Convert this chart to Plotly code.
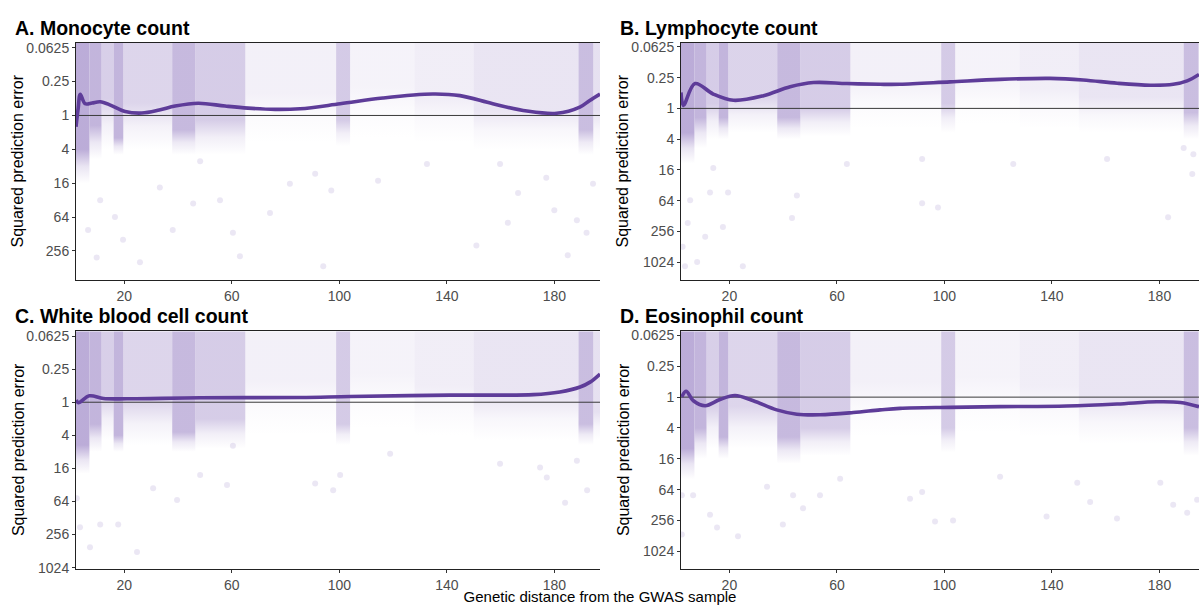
import numpy as np
import plotly.graph_objects as go

# ---------------- data ----------------
# x-bands of the point cloud (genetic distance) shared by all panels
col_x0 = [2, 7, 11.5, 16, 19.6, 37.8, 46.4, 65, 98.8, 104, 128, 150, 189, 194.5]
col_x1 = [7, 11.5, 16, 19.6, 37.8, 46.4, 65, 98.8, 104, 128, 150, 189, 194.5, 197]

# density per band (0-1) and where the cloud stays dense / fades out (squared error)
A_density = [0.95, 0.85, 0.55, 0.85, 0.48, 0.8, 0.58, 0.17, 0.6, 0.14, 0.2, 0.3, 0.75, 0.35]
A_dense_to = [4, 1.5, 0.5, 2.5, 0.6, 1.8, 1.2, 0.4, 1.2, 0.3, 0.5, 0.8, 1.8, 0.8]
A_fade_to = [16, 6, 4, 5, 4, 5, 5, 3, 3.5, 2.5, 3, 4, 5, 4]

B_density = [0.95, 0.85, 0.58, 0.85, 0.5, 0.8, 0.58, 0.17, 0.6, 0.14, 0.2, 0.3, 0.75, 0.35]
B_dense_to = [3, 1.5, 0.8, 1.5, 0.6, 1.5, 1.0, 0.3, 0.8, 0.3, 0.4, 0.6, 1.2, 0.8]
B_fade_to = [12, 6, 4, 4, 3, 4, 3.5, 2.5, 3, 2, 2.5, 3, 4, 3]

C_density = [0.95, 0.85, 0.55, 0.85, 0.48, 0.8, 0.58, 0.17, 0.6, 0.14, 0.2, 0.3, 0.75, 0.35]
C_dense_to = [6, 2.5, 0.8, 4, 1.0, 3.5, 2, 0.4, 2.5, 0.3, 0.5, 0.8, 2.5, 1.5]
C_fade_to = [20, 8, 5, 8, 6, 8, 7, 4, 6, 3, 4, 5, 6, 5]

D_density = [0.95, 0.85, 0.55, 0.85, 0.48, 0.8, 0.58, 0.17, 0.6, 0.14, 0.2, 0.3, 0.75, 0.35]
D_dense_to = [10, 4, 1.5, 6, 1.5, 6, 4, 0.5, 4, 0.4, 0.6, 1.2, 4, 2]
D_fade_to = [40, 16, 10, 16, 10, 20, 14, 6, 12, 5, 6, 8, 14, 8]

# isolated points in the sparse part of each cloud
A_pts_x = [6.5, 9.7, 19.5, 25.8, 11, 16.5, 33.2, 45.6, 38, 60.4, 55.6, 63, 74.2, 81.6, 48.2,
           94, 97, 91, 114.4, 132.6, 151, 162.7, 166.5, 177, 180, 185, 188.4, 192, 194.4, 159.8]
A_pts_y = [108, 333, 162, 405, 32, 64, 19, 36.6, 108, 121, 32, 318, 54, 16.3, 6.5,
           477, 21.6, 10.9, 14.5, 7.3, 204, 81, 24, 12.8, 48.5, 305, 72.5, 121, 16.3, 7.3]
B_pts_x = [2.6, 3.5, 4.5, 8, 5.4, 12.8, 19.5, 17.6, 25, 43.3, 45.1, 11, 14, 63.7,
           91.7, 91.7, 97.6, 125.6, 160.5, 183.2, 192.2, 192.6, 189]
B_pts_y = [512, 1230, 176, 1024, 63, 44.6, 44.6, 211, 1230, 141, 50.6, 326, 14.7, 12.3,
           9.8, 72, 87, 12.3, 9.8, 135, 19.2, 7.9, 6]
C_pts_x = [2.3, 3.5, 7.2, 11, 17.7, 24.7, 30.7, 39.6, 58.2, 48.2, 60.4,
           91, 97.7, 100.3, 118.9, 159.8, 177.2, 184, 192.2, 188.4, 174.7]
C_pts_y = [56, 188, 433, 167, 167, 533, 36.7, 60, 32, 21, 6.2,
           30, 40, 21, 8.7, 13.2, 23.3, 67.6, 40, 11.6, 15.4]
D_pts_x = [2.3, 2.3, 6.5, 12.8, 15.4, 23.2, 39.9, 43.7, 53.7, 61.2, 34, 47.4,
           96.5, 103.2, 87.2, 91.7, 138, 164.2, 185.1, 190.3, 194, 180.3, 149.4, 120.7, 154.2]
D_pts_y = [82, 478, 82, 197, 350, 520, 305, 82, 82, 39, 56, 148,
           269, 256, 96, 71, 215, 235, 126, 181, 101, 47, 47, 36, 111]

# smoothed trend (squared prediction error vs distance)
A_fit_x = [2.0, 2.8, 3.6, 5.4, 8.0, 11.0, 15, 20.3, 26.5, 33, 38.9, 47.5, 57.5, 66, 76.1, 85.4,
           100.3, 116.2, 134.8, 144.9, 157.1, 169.8, 180.9, 189.5, 193.2, 197]
A_fit_y = [1.59, 0.75, 0.42, 0.62, 0.6, 0.57, 0.66, 0.85, 0.905, 0.8, 0.68, 0.605, 0.68, 0.74, 0.78, 0.76,
           0.62, 0.49, 0.416, 0.444, 0.62, 0.835, 0.915, 0.71, 0.54, 0.416]
B_fit_x = [2.0, 2.9, 7.2, 14.0, 21.5, 32.7, 42.6, 51.3, 63.7, 76.1, 83.5, 102.1, 120.7, 139.3,
           151.6, 164.3, 176.6, 185.1, 190.3, 194.7]
B_fit_y = [0.486, 0.875, 0.326, 0.524, 0.693, 0.563, 0.377, 0.312, 0.326, 0.337, 0.337, 0.302, 0.27, 0.258,
           0.277, 0.322, 0.351, 0.337, 0.289, 0.216]
C_fit_x = [2.1, 2.9, 7.0, 12.2, 20.9, 48.2, 85.4, 104.0, 141.2, 172.2, 182.1, 189.6, 193.3, 197]
C_fit_y = [0.91, 1.02, 0.765, 0.855, 0.866, 0.83, 0.821, 0.788, 0.744, 0.726, 0.649, 0.528, 0.431, 0.306]
D_fit_x = [2.3, 3.9, 6.6, 11.0, 16.5, 22.1, 28.9, 37.6, 45.1, 53.7, 66.1, 76.1, 83.5, 102.1, 120.7,
           145.5, 164.2, 179.0, 187.8, 194.7]
D_fit_y = [0.987, 0.767, 1.178, 1.468, 1.11, 0.932, 1.178, 1.775, 2.155, 2.214, 2.0, 1.775, 1.654, 1.582, 1.535,
           1.488, 1.362, 1.231, 1.269, 1.535]

titles = ["A. Monocyte count", "B. Lymphocyte count", "C. White blood cell count", "D. Eosinophil count"]
x_tick_vals = [20, 60, 100, 140, 180]
y_tick_vals = [0.0625, 0.25, 1, 4, 16, 64, 256, 1024]
y_tick_text = ["0.0625", "0.25", "1", "4", "16", "64", "256", "1024"]
x_title = "Genetic distance from the GWAS sample"
y_title = "Squared prediction error"

# ---------------- layout geometry ----------------
W, H = 1199, 613
panels = [
    dict(key="A", px=(76, 600), py=(39.3, 281.5), xr=(2.0, 197.0), yr=(2.932, -1.295),
         yt=7, dens=A_density, d_to=A_dense_to, f_to=A_fade_to, ptx=A_pts_x, pty=A_pts_y,
         fx=A_fit_x, fy=A_fit_y),
    dict(key="B", px=(681, 1199), py=(39.3, 281.5), xr=(2.0, 194.7), yr=(3.370, -1.289),
         yt=8, dens=B_density, d_to=B_dense_to, f_to=B_fade_to, ptx=B_pts_x, pty=B_pts_y,
         fx=B_fit_x, fy=B_fit_y),
    dict(key="C", px=(76, 600), py=(333.3, 575.2), xr=(2.0, 197.0), yr=(3.032, -1.290),
         yt=8, dens=C_density, d_to=C_dense_to, f_to=C_fade_to, ptx=C_pts_x, pty=C_pts_y,
         fx=C_fit_x, fy=C_fit_y),
    dict(key="D", px=(681, 1199), py=(333.3, 575.2), xr=(2.0, 194.7), yr=(3.353, -1.285),
         yt=8, dens=D_density, d_to=D_dense_to, f_to=D_fade_to, ptx=D_pts_x, pty=D_pts_y,
         fx=D_fit_x, fy=D_fit_y),
]

CLOUD = (184, 168, 214)
LINE = "#5E3C99"
FONT = "Liberation Sans, Arial, Helvetica, sans-serif"


def rgba(a):
    return "rgba(%d,%d,%d,%.3f)" % (CLOUD[0], CLOUD[1], CLOUD[2], max(0.0, min(1.0, a)))


fig = go.Figure()
layout = dict(width=W, height=H, margin=dict(l=0, r=0, t=0, b=0),
              paper_bgcolor="white", plot_bgcolor="rgba(0,0,0,0)", showlegend=False,
              font=dict(family=FONT), annotations=[])

for i, p in enumerate(panels):
    n = "" if i == 0 else str(i + 1)
    xa, ya = "x" + n, "y" + n
    top_val = 10 ** p["yr"][1]
    # cloud bands
    for x0, x1, a, dto, fto in zip(col_x0, col_x1, p["dens"], p["d_to"], p["f_to"]):
        x1c = min(x1, p["xr"][1])
        if x0 >= x1c:
            continue
        lt = np.log10(top_val)
        f = (np.log10(dto) - lt) / (np.log10(fto) - lt)  # fraction from top
        f = min(max(f, 0.02), 0.95)
        pos_solid = 1 - f
        pos_mid = pos_solid * 0.5
        cs = [[0, rgba(0)], [pos_mid, rgba(a * 0.32)], [pos_solid, rgba(a)], [1, rgba(a)]]
        fig.add_trace(go.Scatter(
            x=[x0, x1c, x1c, x0, x0], y=[top_val, top_val, fto, fto, top_val],
            mode="none", fill="toself", fillgradient=dict(type="vertical", colorscale=cs),
            xaxis=xa, yaxis=ya, hoverinfo="skip"))
    # sparse points
    fig.add_trace(go.Scatter(x=p["ptx"], y=p["pty"], mode="markers",
                             marker=dict(size=6, color=rgba(0.28), line=dict(width=0)),
                             xaxis=xa, yaxis=ya, hoverinfo="skip"))
    # reference line at 1
    fig.add_trace(go.Scatter(x=list(p["xr"]), y=[1, 1], mode="lines",
                             line=dict(color="#3a3a3a", width=1), xaxis=xa, yaxis=ya, hoverinfo="skip"))
    # smooth trend
    fig.add_trace(go.Scatter(x=p["fx"], y=p["fy"], mode="lines",
                             line=dict(color=LINE, width=3.6, shape="spline", smoothing=1.0),
                             xaxis=xa, yaxis=ya, hoverinfo="skip"))

    xdom = [p["px"][0] / W, p["px"][1] / W]
    ydom = [1 - p["py"][1] / H, 1 - p["py"][0] / H]
    layout["xaxis" + n] = dict(domain=xdom, anchor=ya, range=list(p["xr"]), showgrid=False, zeroline=False,
                               showline=True, linecolor="#222", linewidth=1, mirror=True,
                               ticks="outside", ticklen=3, tickcolor="#333", tickwidth=1,
                               tickvals=x_tick_vals, ticktext=[str(v) for v in x_tick_vals],
                               tickfont=dict(size=14, color="#4D4D4D", family=FONT))
    layout["yaxis" + n] = dict(domain=ydom, anchor=xa, type="log", range=list(p["yr"]), showgrid=False,
                               zeroline=False, showline=True, linecolor="#222", linewidth=1,
                               ticks="outside", ticklen=3, tickcolor="#333", tickwidth=1,
                               tickvals=y_tick_vals[:p["yt"]], ticktext=y_tick_text[:p["yt"]],
                               tickfont=dict(size=14, color="#4D4D4D", family=FONT))
    # panel title
    tx = 13 if p["px"][0] < 300 else 618
    ty = 24 if p["py"][0] < 100 else 318
    layout["annotations"].append(dict(text="<b>%s</b>" % titles[i], x=tx / W, y=1 - ty / H,
                                      xref="paper", yref="paper", xanchor="left", yanchor="middle",
                                      showarrow=False, font=dict(size=19.5, color="black", family=FONT)))
    # y-axis title
    yx = 18 if p["px"][0] < 300 else 623
    yc = (p["py"][0] + p["py"][1]) / 2
    layout["annotations"].append(dict(text=y_title, x=yx / W, y=1 - yc / H, xref="paper", yref="paper",
                                      xanchor="center", yanchor="middle", textangle=-90, showarrow=False,
                                      font=dict(size=16, color="black", family=FONT)))

# shared x-axis title, placed on a hidden full-page pixel axis so it can sit at the page bottom
fig.add_trace(go.Scatter(x=[600], y=[H - 605], mode="text", text=[x_title], textposition="middle center",
                         textfont=dict(size=15, color="black", family=FONT), cliponaxis=False,
                         xaxis="x5", yaxis="y5", hoverinfo="skip"))
layout["xaxis5"] = dict(domain=[0, 1], range=[0, W], visible=False, anchor="y5", fixedrange=True)
layout["yaxis5"] = dict(domain=[0, 1], range=[0, H], visible=False, anchor="x5", fixedrange=True)

fig.update_layout(**layout)
fig.write_html("out.html")
